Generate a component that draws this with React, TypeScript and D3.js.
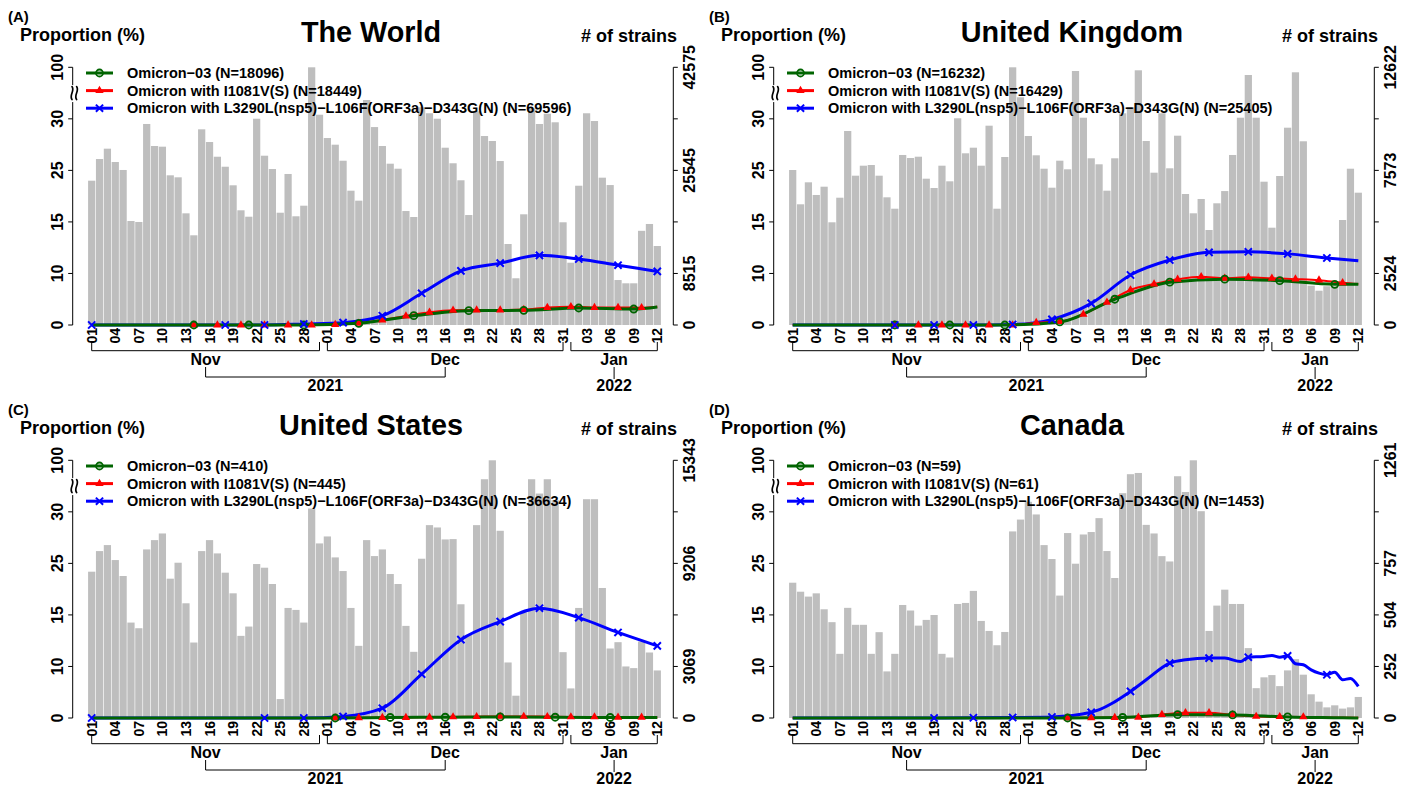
import React from 'react';
import * as d3 from 'd3';

// days run from 2021-11-01 (index 0) to 2022-01-12 (index 72)
const dayCount = 73;
const dayTickIdx = d3.range(0, 73, 3);
const dayTickLabels = ['01', '04', '07', '10', '13', '16', '19', '22', '25', '28', '01', '04', '07', '10', '13', '16', '19', '22', '25', '28', '31', '03', '06', '09', '12'];
const months = ['Nov', 'Dec', 'Jan'];
const monthFirst = [0, 30, 61];
const monthLast = [29, 60, 72];
const years = ['2021', '2022'];
const yearMonths = [[0, 1], [2]];

const propTicks = [0, 10, 15, 25, 30, 100];
const propLabels = ['0', '10', '15', '25', '30', '100'];

const seriesNames = ['Omicron\u221203', 'Omicron with I1081V(S)', 'Omicron with L3290L(nsp5)\u2212L106F(ORF3a)\u2212D343G(N)'];
const seriesColors = ['#006400', '#ff0000', '#0000ff'];
const seriesWidths = [3, 2, 3];

const panelLetters = ['(A)', '(B)', '(C)', '(D)'];
const panelTitles = ['The World', 'United Kingdom', 'United States', 'Canada'];
const panelN = [[18096, 18449, 69596], [16232, 16429, 25405], [410, 445, 36634], [59, 61, 1453]];
const panelMax = [42575, 12622, 15343, 1261];
const rightLabelIdx = [[0, 1, 3, 5], [0, 1, 3, 5], [0, 1, 3, 5], [0, 1, 2, 3, 5]];

// daily number of strains
const worldBars = [23840, 27420, 29130, 26930, 25610, 17180, 17020, 33210, 29570, 29460, 24730, 24400, 18450, 14820, 32330, 30230, 27800, 26150, 23080, 18950, 17890, 34080, 27970, 25770, 18550, 24950, 17960, 19710, 42575, 34740, 30890, 29790, 27140, 22190, 20540, 37170, 32700, 29570, 26650, 25820, 18830, 17840, 35970, 34980, 34080, 29290, 26720, 23910, 18170, 35300, 31220, 30400, 27090, 13380, 7720, 18290, 35800, 33210, 34910, 33490, 16970, 10290, 23010, 34980, 33700, 24340, 23120, 7430, 6890, 6890, 15560, 16690, 13050];
const ukBars = [7592, 5912, 6989, 6368, 6774, 5030, 6235, 9502, 7313, 7803, 7837, 7313, 6254, 5696, 8327, 8180, 8243, 7166, 6710, 7803, 7038, 10125, 8410, 8684, 7803, 9762, 5696, 8229, 12622, 11153, 9257, 8312, 7655, 6725, 8048, 7626, 12441, 10153, 8165, 7871, 6578, 8165, 10369, 10663, 12475, 9012, 7460, 10369, 7675, 9272, 6416, 5471, 6172, 4653, 5961, 6560, 8327, 10153, 12245, 10153, 7019, 4766, 7298, 9664, 12377, 8998, 1925, 1680, 1900, 1900, 5143, 7655, 6480];
const usBars = [8711, 9938, 10295, 9404, 8454, 5682, 5345, 10037, 10591, 10987, 8295, 9245, 6830, 4494, 9938, 10591, 9800, 8652, 7424, 4890, 5444, 9166, 8948, 7978, 1128, 6553, 6435, 5682, 12472, 10394, 10809, 9562, 8750, 6553, 4296, 10591, 9641, 10037, 8572, 7978, 5484, 3940, 9483, 11483, 11344, 10631, 10651, 6771, 4950, 11483, 14215, 15343, 11147, 3306, 1327, 6276, 14215, 13363, 14215, 12968, 3920, 1762, 6553, 13026, 13026, 7741, 4138, 4514, 3069, 2970, 4553, 3900, 2831];
const caBars = [662, 618, 594, 610, 532, 469, 314, 539, 456, 456, 314, 420, 228, 314, 553, 526, 452, 480, 504, 314, 296, 558, 563, 622, 475, 426, 356, 421, 913, 971, 1058, 996, 846, 778, 599, 905, 755, 898, 910, 978, 817, 685, 1100, 1193, 1199, 945, 903, 792, 766, 1183, 1106, 1261, 1012, 426, 550, 628, 558, 558, 342, 146, 199, 210, 156, 233, 288, 212, 116, 80, 52, 62, 46, 52, 103];

// proportions (%) of each lineage, at the days listed
const worldGreenDays = [0, 13, 20, 27, 34, 41, 48, 55, 62, 69, 72];
const worldGreen = [0, 0, 0, 0, 0.33, 1.8, 2.78, 2.85, 3.3, 3.1, 3.5];
const worldRedDays = [0, 13, 16, 19, 22, 25, 28, 31, 34, 37, 40, 43, 46, 49, 52, 55, 58, 61, 64, 67, 70, 72];
const worldRed = [0, 0, 0, 0, 0, 0, 0, 0.1, 0.33, 0.97, 1.75, 2.46, 2.85, 2.9, 2.9, 3.0, 3.4, 3.55, 3.4, 3.4, 3.36, 3.55];
const worldBlueDays = [0, 17, 22, 27, 32, 37, 42, 47, 52, 57, 62, 67, 72];
const worldBlue = [0, 0, 0, 0.2, 0.45, 1.8, 6.15, 10.25, 11.0, 11.76, 11.4, 10.8, 10.2];

const ukGreenDays = [0, 13, 20, 27, 34, 41, 48, 55, 62, 69, 72];
const ukGreen = [0, 0, 0, 0, 0.6, 5.0, 8.3, 8.9, 8.6, 7.9, 7.9];
const ukRedDays = [0, 13, 16, 19, 22, 25, 28, 31, 34, 37, 40, 43, 46, 49, 52, 55, 58, 61, 64, 67, 70, 72];
const ukRed = [0, 0, 0, 0, 0, 0, 0, 0.45, 0.64, 2.07, 4.4, 6.8, 7.95, 8.87, 9.37, 9.06, 9.25, 9.06, 8.9, 8.7, 8.2, 7.95];
const ukBlueDays = [0, 13, 18, 23, 28, 33, 38, 43, 48, 53, 58, 63, 68, 72];
const ukBlue = [0, 0, 0, 0, 0.1, 1.1, 4.2, 9.7, 11.3, 12.05, 12.1, 11.9, 11.5, 11.24];

const usGreenDays = [0, 31, 38, 45, 52, 59, 66, 72];
const usGreen = [0, 0, 0.1, 0.15, 0.2, 0.15, 0.1, 0.1];
const usRedDays = [0, 31, 34, 37, 40, 43, 46, 49, 52, 55, 58, 61, 64, 67, 70, 72];
const usRed = [0, 0, 0.05, 0.1, 0.1, 0.15, 0.2, 0.25, 0.3, 0.3, 0.25, 0.2, 0.2, 0.15, 0.15, 0.1];
const usBlueDays = [0, 22, 27, 32, 37, 42, 47, 52, 57, 62, 67, 72];
const usBlue = [0, 0, 0, 0.3, 1.9, 8.5, 12.6, 14.35, 16.3, 14.74, 13.3, 12.0];

const caGreenDays = [0, 35, 42, 49, 56, 63, 70, 72];
const caGreen = [0, 0, 0.1, 0.65, 0.6, 0.2, 0.05, 0];
const caRedDays = [0, 35, 38, 41, 44, 47, 50, 53, 56, 59, 62, 65, 68, 72];
const caRed = [0, 0, 0.05, 0.1, 0.15, 0.65, 1.0, 1.0, 0.6, 0.3, 0.25, 0.2, 0.1, 0.05];
const caBlueDays = [0, 18, 23, 28, 33, 38, 43, 45, 48, 50, 53, 55, 57, 58, 60, 61, 62, 63, 64, 65, 66, 67, 68, 69, 70, 71, 72];
const caBlue = [0, 0, 0.05, 0.1, 0.2, 1.1, 5.16, 7.42, 10.32, 10.65, 10.81, 10.81, 10.48, 10.9, 10.97, 11.06, 10.9, 11.03, 10.26, 10.16, 9.35, 8.71, 8.39, 8.9, 7.42, 7.68, 6.13];

const panels = [
  {
    bars: worldBars,
    series: [
      { days: worldGreenDays, vals: worldGreen, marks: d3.range(13, 70, 7) },
      { days: worldRedDays, vals: worldRed, marks: d3.range(13, 71, 3) },
      { days: worldBlueDays, vals: worldBlue, marks: worldBlueDays },
    ],
  },
  {
    bars: ukBars,
    series: [
      { days: ukGreenDays, vals: ukGreen, marks: d3.range(13, 70, 7) },
      { days: ukRedDays, vals: ukRed, marks: d3.range(13, 71, 3) },
      { days: ukBlueDays, vals: ukBlue, marks: d3.range(13, 69, 5) },
    ],
  },
  {
    bars: usBars,
    series: [
      { days: usGreenDays, vals: usGreen, marks: d3.range(31, 67, 7) },
      { days: usRedDays, vals: usRed, marks: d3.range(31, 71, 3) },
      { days: usBlueDays, vals: usBlue, marks: usBlueDays },
    ],
  },
  {
    bars: caBars,
    series: [
      { days: caGreenDays, vals: caGreen, marks: d3.range(35, 64, 7) },
      { days: caRedDays, vals: caRed, marks: d3.range(35, 66, 3) },
      { days: caBlueDays, vals: caBlue, marks: d3.range(18, 69, 5) },
    ],
  },
];

const W = 1410;
const H = 787;
const panelDX = 701;
const panelDY = 393;
const yZero = 325;
const yTop = 67.3;
const axL = 72.7;
const axR = 673.3;
const xFirst = 91.7;
const xLast = 657.3;
const font = 'Liberation Sans, Arial, Helvetica, sans-serif';

function Marker({ kind, cx, cy }: { kind: number; cx: number; cy: number }) {
  if (kind === 0) {
    return <circle cx={cx} cy={cy} r={3.5} fill="none" stroke={seriesColors[0]} strokeWidth={1.8} />;
  }
  if (kind === 1) {
    const tri = d3.symbol().type(d3.symbolTriangle).size(30)();
    return <path d={tri || ''} transform={`translate(${cx},${cy})`} fill={seriesColors[1]} />;
  }
  const s = 3.6;
  return (
    <path
      d={`M${cx - s},${cy - s}L${cx + s},${cy + s}M${cx - s},${cy + s}L${cx + s},${cy - s}`}
      stroke={seriesColors[2]}
      strokeWidth={2}
      fill="none"
    />
  );
}

// the "≈" axis-break mark, standing upright on the axis
function AxisBreak({ cx, cy }: { cx: number; cy: number }) {
  const h = 6.5;
  const wave = (x0: number) => `M${x0},${cy - h}C${x0 + 3.2},${cy - h / 3} ${x0 - 3.2},${cy + h / 3} ${x0},${cy + h}`;
  return (
    <path d={`${wave(cx - 2)}${wave(cx + 2.6)}`} stroke="#000" strokeWidth={1.7} fill="none" strokeLinecap="round" />
  );
}

function Panel({ idx }: { idx: number }) {
  const p = panels[idx];
  const ox = (idx % 2) * panelDX;
  const oy = Math.floor(idx / 2) * panelDY;
  const max = panelMax[idx];

  const x = d3.scaleLinear().domain([0, dayCount - 1]).range([xFirst, xLast]);
  const step = (xLast - xFirst) / (dayCount - 1);
  const bw = step * 0.92;
  const yP = d3
    .scaleLinear()
    .domain(propTicks)
    .range(propTicks.map((_, i) => yZero - (i * (yZero - yTop)) / (propTicks.length - 1)));
  const yC = d3.scaleLinear().domain([0, max]).range([yZero, yTop]);
  const line = d3
    .line<[number, number]>()
    .x((d) => x(d[0]))
    .y((d) => yP(d[1]))
    .curve(d3.curveMonotoneX);

  const rightTicks = d3.range(6).map((i) => (max * i) / 5);
  const breakY = (yP(30) + yP(100)) / 2;

  return (
    <g transform={`translate(${ox},${oy})`} fontFamily={font} fontWeight="bold">
      {/* bars */}
      {p.bars.map((v, i) => (
        <rect key={i} x={x(i) - bw / 2} y={yC(v)} width={bw} height={yZero - yC(v)} fill="#bebebe" />
      ))}

      {/* lines: blue, red, green */}
      {[2, 1, 0].map((k) => {
        const s = p.series[k];
        const pts = s.days.map((d, i) => [d, s.vals[i]] as [number, number]);
        return (
          <path key={k} d={line(pts) || ''} fill="none" stroke={seriesColors[k]} strokeWidth={seriesWidths[k]} strokeLinejoin="round" />
        );
      })}
      {/* markers: red, green, blue */}
      {[1, 0, 2].map((k) => {
        const s = p.series[k];
        return (
          <g key={k}>
            {s.marks.map((d) => {
              const i = s.days.indexOf(d);
              return <Marker key={d} kind={k} cx={x(d)} cy={yP(s.vals[i])} />;
            })}
          </g>
        );
      })}

      {/* left axis with break */}
      <path d={`M${axL},${yTop}V${breakY - 8}M${axL},${breakY + 9}V${yZero}`} stroke="#000" fill="none" />
      <AxisBreak cx={axL + 1.3} cy={breakY} />
      {propTicks.map((t, i) => (
        <g key={t}>
          <line x1={axL - 4.5} x2={axL} y1={yP(t)} y2={yP(t)} stroke="#000" />
          <text transform={`translate(63.3,${yP(t)}) rotate(-90)`} textAnchor="middle" fontSize={16}>
            {propLabels[i]}
          </text>
        </g>
      ))}

      {/* right axis */}
      <line x1={axR} x2={axR} y1={yTop} y2={yZero} stroke="#000" />
      {rightTicks.map((t, i) => (
        <line key={i} x1={axR} x2={axR + 4.5} y1={yC(t)} y2={yC(t)} stroke="#000" />
      ))}
      {rightLabelIdx[idx].map((i) => (
        <text key={i} transform={`translate(695,${yC(rightTicks[i])}) rotate(-90)`} textAnchor="middle" fontSize={16}>
          {Math.round(rightTicks[i])}
        </text>
      ))}

      {/* day labels */}
      {dayTickIdx.map((d, i) => (
        <text key={d} transform={`translate(${x(d) + 5},328) rotate(-90)`} textAnchor="end" fontSize={14}>
          {dayTickLabels[i]}
        </text>
      ))}

      {/* month brackets */}
      {months.map((m, i) => {
        const a = x(monthFirst[i]);
        const b = x(monthLast[i]);
        return (
          <g key={m}>
            <path d={`M${a},342V350.7H${b}V342`} stroke="#000" fill="none" />
            <text x={(a + b) / 2} y={365} textAnchor="middle" fontSize={16}>
              {m}
            </text>
          </g>
        );
      })}
      {years.map((yr, i) => {
        const cs = yearMonths[i].map((m) => (x(monthFirst[m]) + x(monthLast[m])) / 2);
        const mid = d3.mean(cs) as number;
        const d =
          cs.length > 1
            ? `M${cs[0]},367V377H${cs[cs.length - 1]}V367`
            : `M${cs[0]},367V379`;
        return (
          <g key={yr}>
            <path d={d} stroke="#000" fill="none" />
            <text x={mid} y={391} textAnchor="middle" fontSize={16}>
              {yr}
            </text>
          </g>
        );
      })}

      {/* legend */}
      {seriesNames.map((n, k) => {
        const ly = 73 + k * 17.6;
        return (
          <g key={n}>
            <line x1={86} x2={113} y1={ly} y2={ly} stroke={seriesColors[k]} strokeWidth={3} />
            <Marker kind={k} cx={99.5} cy={ly} />
            <text x={127} y={ly} dy="0.36em" fontSize={14.5}>
              {`${n} (N=${panelN[idx][k]})`}
            </text>
          </g>
        );
      })}

      {/* headings */}
      <text x={8} y={22} fontSize={15}>
        {panelLetters[idx]}
      </text>
      <text x={20} y={41} fontSize={18}>
        Proportion (%)
      </text>
      <text x={371} y={42} textAnchor="middle" fontSize={28.8}>
        {panelTitles[idx]}
      </text>
      <text x={677} y={42} textAnchor="end" fontSize={18}>
        # of strains
      </text>
    </g>
  );
}

export default function App() {
  return (
    <svg
      width={W}
      height={H}
      viewBox={`0 0 ${W} ${H}`}
      style={{ position: 'absolute', left: 0, top: 0, background: '#fff' }}
    >
      <rect width={W} height={H} fill="#fff" />
      {panels.map((_, i) => (
        <Panel key={i} idx={i} />
      ))}
    </svg>
  );
}
